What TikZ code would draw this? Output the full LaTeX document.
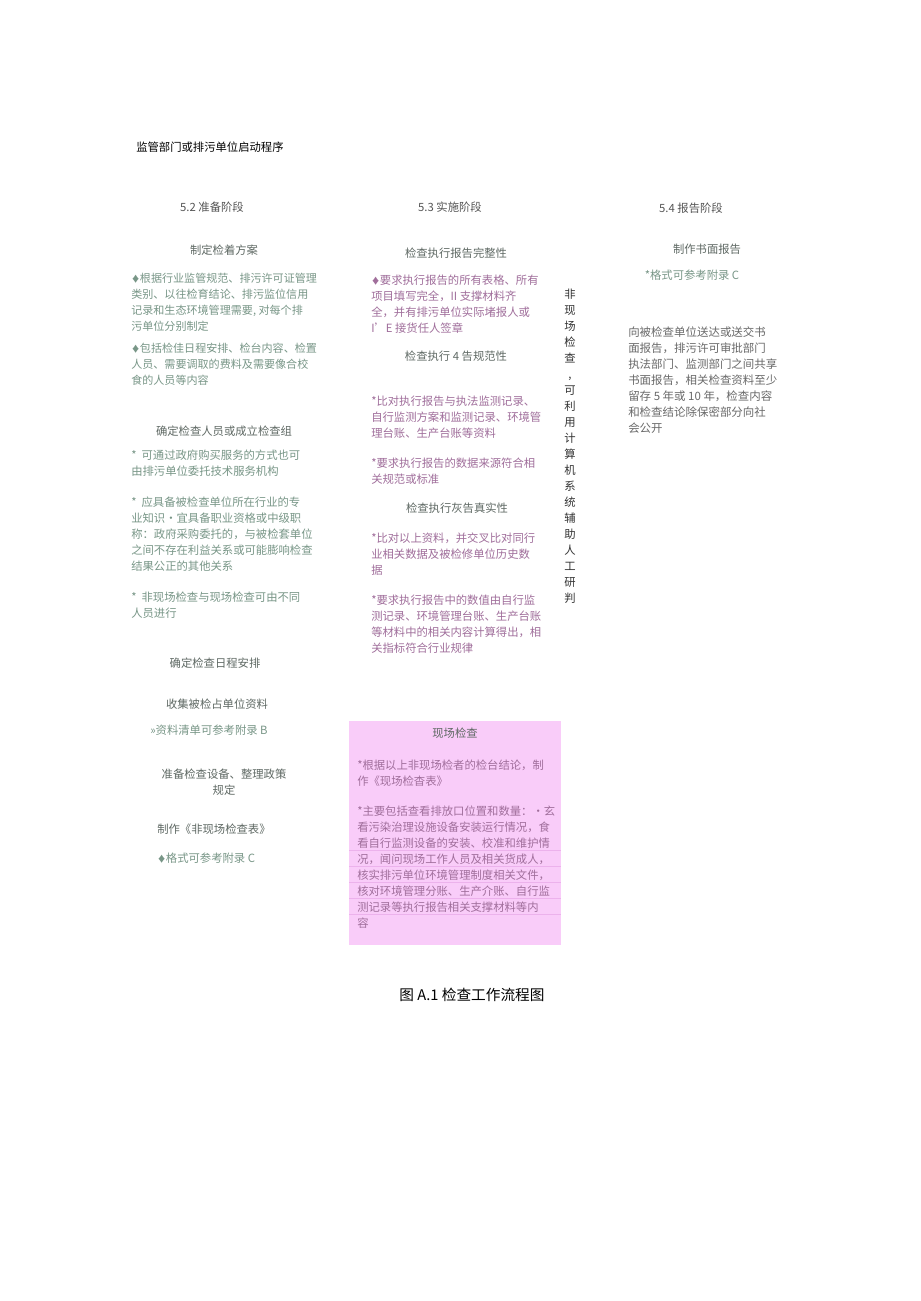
\documentclass[tikz,border=0pt]{standalone}
\usepackage{fontspec}
\setmainfont{Noto Sans CJK SC}
\usepackage{xcolor}
\usetikzlibrary{positioning}

\definecolor{stagegray}{RGB}{85,85,85}
\definecolor{headgray}{RGB}{95,105,100}
\definecolor{bodygreen}{RGB}{120,150,135}
\definecolor{bodypurple}{RGB}{160,110,155}
\definecolor{rightgray}{RGB}{105,105,105}
\definecolor{pinkfill}{RGB}{249,204,249}
\definecolor{pinkline}{RGB}{236,178,236}

\newcommand{\dia}{{\fontsize{6.5}{6.5}\selectfont ♦}}

\tikzset{
  every node/.style={inner sep=0pt, font=\fontsize{8.5}{12}\selectfont},
  stage/.style={text=stagegray},
  head/.style={text=headgray},
  greenpar/.style={text=bodygreen, align=left, anchor=base west},
  purplepar/.style={text=bodypurple, align=left, anchor=base west},
}

\begin{document}
\begin{tikzpicture}[x=0.75pt, y=-0.75pt]
    \useasboundingbox (0,0) rectangle (920,1301);
    \fill[white] (0,0) rectangle (920,1301);
    % set up the nodes (paragraphs sit on the baseline of their last line)
    \node[anchor=base west] (Start) at (136,152) {监管部门或排污单位启动程序};
    % left column
    \node[stage] (S2) at (212,207) {5.2 准备阶段};
    \node[head] (L1) at (224,250) {制定检着方案};
    \node[greenpar, font=\fontsize{8.3}{12}\selectfont] (L1a) at (131,331) {\dia 根据行业监管规范、排污许可证管理\\类别、以往检育结论、排污监位信用\\记录和生态环境管理需要, 对每个排\\污单位分别制定};
    \node[greenpar, font=\fontsize{8.3}{12}\selectfont] (L1b) at (131,384) {\dia 包括检佳日程安排、检台内容、检置\\人员、需要调取的费料及需要像合校\\食的人员等内容};
    \node[head] (L2) at (224,431) {确定检查人员或成立检查组};
    \node[greenpar] (L2a) at (131,475) {*\ \ 可通过政府购买服务的方式也可\\由排污单位委托技术服务机构};
    \node[greenpar] (L2b) at (131,570) {*\ \ 应具备被检查单位所在行业的专\\业知识•宜具备职业资格或中级职\\称：政府采购委托的，与被检套单位\\之间不存在利益关系或可能膨响检查\\结果公正的其他关系};
    \node[greenpar] (L2c) at (131,617) {*\ \ 非现场检查与现场检查可由不同\\人员进行};
    \node[head] (L3) at (215,663) {确定检查日程安排};
    \node[head] (L4) at (217,704) {收集被检占单位资料};
    \node[greenpar] (L4a) at (150,734) {»资料清单可参考附录 B};
    \node[head, align=center] (L5) at (224,782) {准备检查设备、整理政策\\规定};
    \node[head, anchor=base west] (L6) at (157,833) {制作《非现场检查表》};
    \node[greenpar] (L6a) at (157,862) {\dia 格式可参考附录 C};
    % middle column
    \node[stage] (S3) at (450,207) {5.3 实施阶段};
    \node[head] (M1) at (456,253) {检查执行报告完整性};
    \node[purplepar] (M1a) at (371,333) {\dia 要求执行报告的所有表格、所有\\项目填写完全，II 支撑材料齐\\全，并有排污单位实际堵报人或\\I'E 接货任人签章};
    \node[head] (M2) at (456,356) {检查执行 4 告规范性};
    \node[purplepar] (M2a) at (371,437) {*比对执行报告与执法监测记录、\\自行监测方案和监测记录、环境管\\理台账、生产台账等资料};
    \node[purplepar] (M2b) at (371,483) {*要求执行报告的数据来源符合相\\关规范或标准};
    \node[head] (M3) at (457,508) {检查执行灰告真实性};
    \node[purplepar] (M3a) at (371,574) {*比对以上资料，并交叉比对同行\\业相关数据及被检修单位历史数\\据};
    \node[purplepar] (M3b) at (371,652) {*要求执行报告中的数值由自行监\\测记录、环境管理台账、生产台账\\等材料中的相关内容计算得出，相\\关指标符合行业规律};
    % on-site check box
    \node[fill=pinkfill, minimum width=212*0.75pt, minimum height=224*0.75pt] (Box) at (455,833) {};
    \foreach \yy in {850,866,882,898,914}
        \draw[pinkline, line width=0.5pt] (349,\yy) -- (561,\yy);
    \node[head] (M4) at (455,733) {现场检查};
    \node[purplepar] (M4a) at (357,785) {*根据以上非现场检者的检台结论，制\\作《现场检杳表》};
    \node[purplepar] (M4b) at (357,927) {*主要包括查看排放口位置和数量：•玄\\看污染治理设施设备安装运行情况，食\\看自行监测设备的安装、校准和维护情\\况，闻问现场工作人员及相关货成人，\\核实排污单位环境管理制度相关文件，\\核对环境管理分账、生产介账、自行监\\测记录等执行报告相关支撑材料等内\\容};
    % vertical note
    \node[align=center, anchor=north, text=black!80] (Note) at (570,289) {非\\现\\场\\检\\查\\,\\可\\利\\用\\计\\算\\机\\系\\统\\辅\\助\\人\\工\\研\\判};
    % right column
    \node[stage] (S4) at (691,208) {5.4 报告阶段};
    \node[head] (R1) at (707,249) {制作书面报告};
    \node[text=bodygreen] (R1a) at (692,275) {*格式可参考附录 C};
    \node[text=rightgray, align=left, anchor=base west, font=\fontsize{8.6}{12}\selectfont] (R2) at (628,432) {向被检查单位送达或送交书\\面报告，排污许可审批部门\\执法部门、监测部门之间共享\\书面报告，相关检查资料至少\\留存 5 年或 10 年，检查内容\\和检查结论除保密部分向社\\会公开};
    % caption
    \node[font=\fontsize{11}{13}\selectfont] (Cap) at (472,995) {图 A.1 检查工作流程图};
\end{tikzpicture}
\end{document}
